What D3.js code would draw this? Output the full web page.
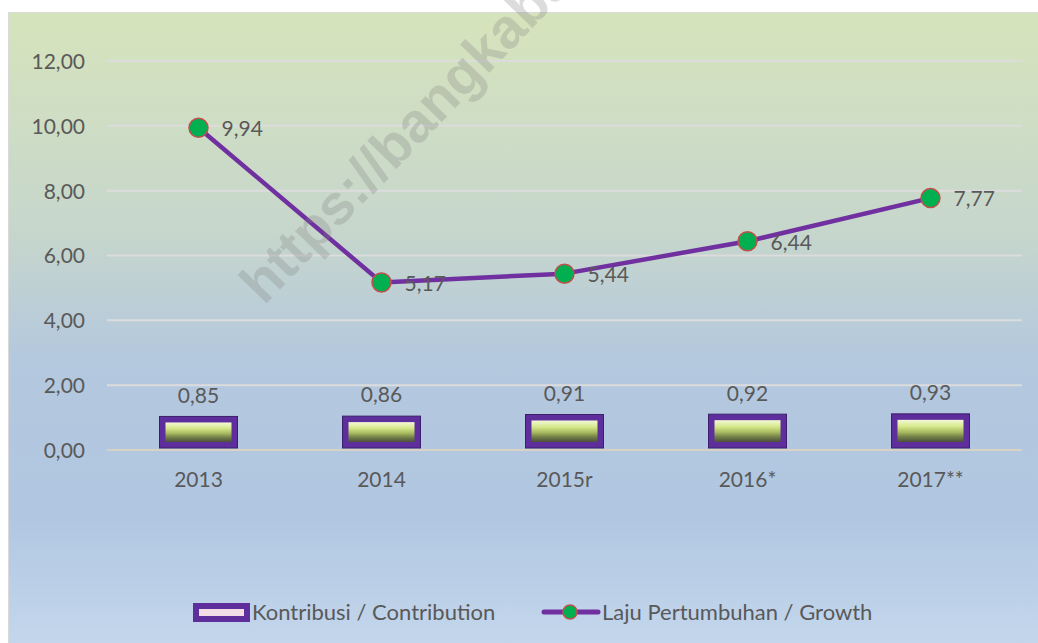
<!DOCTYPE html>
<html>
<head>
<meta charset="utf-8">
<script src="https://cdn.jsdelivr.net/npm/d3@7"></script>
<style>
  body { margin: 0; background: #fff; }
  svg text { font-family: Lato, "Open Sans", sans-serif; fill: #595959; }
</style>
</head>
<body>
<div id="chart"></div>
<script>
var years = ["2013", "2014", "2015r", "2016*", "2017**"];
var contribution = [0.85, 0.86, 0.91, 0.92, 0.93];
var growth = [9.94, 5.17, 5.44, 6.44, 7.77];
var yTicks = [0, 2, 4, 6, 8, 10, 12];
var legendLabels = ["Kontribusi / Contribution", "Laju Pertumbuhan / Growth"];

var width = 1038, height = 643;
var plot = { left: 107, right: 1022, top: 61, bottom: 450 };

var fmt = d3.formatLocale({ decimal: ",", thousands: ".", grouping: [3], currency: ["", ""] }).format(".2f");

var svg = d3.select("#chart").append("svg")
   .attr("width", width)
   .attr("height", height);

var defs = svg.append("defs");

var bg = defs.append("linearGradient").attr("id", "bg")
   .attr("x1", 0).attr("y1", 0).attr("x2", 0).attr("y2", 1);
bg.append("stop").attr("offset", "0%").attr("stop-color", "#d6e4bc");
bg.append("stop").attr("offset", "35%").attr("stop-color", "#c6d6cc");
bg.append("stop").attr("offset", "55%").attr("stop-color", "#b4c8de");
bg.append("stop").attr("offset", "80%").attr("stop-color", "#b1c7e1");
bg.append("stop").attr("offset", "100%").attr("stop-color", "#c3d6ec");

var barFill = defs.append("linearGradient").attr("id", "barFill")
   .attr("x1", 0).attr("y1", 0).attr("x2", 0).attr("y2", 1);
barFill.append("stop").attr("offset", "0%").attr("stop-color", "#f4f9d8");
barFill.append("stop").attr("offset", "30%").attr("stop-color", "#d6e88a");
barFill.append("stop").attr("offset", "55%").attr("stop-color", "#a9bb62");
barFill.append("stop").attr("offset", "75%").attr("stop-color", "#768448");
barFill.append("stop").attr("offset", "100%").attr("stop-color", "#4a4f3c");

// chart background
svg.append("rect")
   .attr("x", 8.5).attr("y", 12.5)
   .attr("width", width - 8).attr("height", height - 12)
   .attr("fill", "url(#bg)")
   .attr("stroke", "#d9d9d9");

var x = d3.scaleBand()
   .domain(years)
   .range([plot.left, plot.right]);

var y = d3.scaleLinear()
   .domain([0, 12])
   .range([plot.bottom, plot.top]);

// gridlines
svg.append("g")
   .selectAll("line")
   .data(yTicks)
   .enter().append("line")
   .attr("x1", plot.left).attr("x2", plot.right)
   .attr("y1", function(d) { return y(d); })
   .attr("y2", function(d) { return y(d); })
   .attr("stroke", function(d) { return d == 0 ? "#d8d2c4" : "#dcdcdc"; })
   .attr("stroke-width", 2);

// y axis
var yAxis = svg.append("g")
   .attr("transform", "translate(" + (plot.left - 22) + ",0)")
   .call(d3.axisLeft(y).tickValues(yTicks).tickFormat(fmt).tickSize(0).tickPadding(0));
yAxis.select(".domain").remove();
yAxis.selectAll("text")
   .attr("font-size", 21)
   .attr("dy", "0.35em");

// x axis
var xAxis = svg.append("g")
   .attr("transform", "translate(0," + plot.bottom + ")")
   .call(d3.axisBottom(x).tickSize(0).tickPadding(30));
xAxis.select(".domain").remove();
xAxis.selectAll("text")
   .attr("font-size", 21)
   .attr("dy", "0.35em");

// bars
var barW = 78;
var bars = svg.append("g")
   .selectAll("g")
   .data(contribution)
   .enter().append("g")
   .attr("transform", function(d, i) {
      return "translate(" + (x(years[i]) + x.bandwidth() / 2 - barW / 2) + ",0)";
   });

bars.append("rect")
   .attr("y", function(d) { return y(d) - 6; })
   .attr("width", barW)
   .attr("height", function(d) { return plot.bottom - 2 - y(d) + 6; })
   .attr("fill", "#5e2e9c")
   .attr("stroke", "#3b1f6b")
   .attr("stroke-width", 1);

bars.append("rect")
   .attr("x", 6)
   .attr("y", function(d) { return y(d); })
   .attr("width", barW - 12)
   .attr("height", function(d) { return plot.bottom - 8 - y(d); })
   .attr("fill", "url(#barFill)");

svg.append("g")
   .selectAll("text")
   .data(contribution)
   .enter().append("text")
   .attr("x", function(d, i) { return x(years[i]) + x.bandwidth() / 2; })
   .attr("y", function(d) { return y(d) - 27; })
   .attr("dy", "0.35em")
   .attr("text-anchor", "middle")
   .attr("font-size", 21)
   .text(function(d) { return fmt(d); });

// growth line
var line = d3.line()
   .x(function(d, i) { return x(years[i]) + x.bandwidth() / 2; })
   .y(function(d) { return y(d); });

svg.append("path")
   .datum(growth)
   .attr("d", line)
   .attr("fill", "none")
   .attr("stroke", "#7030a0")
   .attr("stroke-width", 4.5)
   .attr("stroke-linejoin", "round");

svg.append("g")
   .selectAll("circle")
   .data(growth)
   .enter().append("circle")
   .attr("cx", function(d, i) { return x(years[i]) + x.bandwidth() / 2; })
   .attr("cy", function(d) { return y(d); })
   .attr("r", 9.5)
   .attr("fill", "#00b050")
   .attr("stroke", "#c0504d")
   .attr("stroke-width", 1.5);

svg.append("g")
   .selectAll("text")
   .data(growth)
   .enter().append("text")
   .attr("x", function(d, i) { return x(years[i]) + x.bandwidth() / 2 + 23; })
   .attr("y", function(d) { return y(d) + 1; })
   .attr("dy", "0.35em")
   .attr("font-size", 21)
   .text(function(d) { return fmt(d); });

// watermark, over the plot
svg.append("text")
   .attr("transform", "translate(264,306) rotate(-46)")
   .attr("font-size", 56)
   .attr("font-weight", "bold")
   .style("font-family", "'Liberation Sans', Arial, sans-serif")
   .style("fill", "#808080")
   .style("fill-opacity", 0.28)
   .text("https://bangkaba");

// legend
var legend = svg.append("g").attr("transform", "translate(0,612)");

legend.append("rect")
   .attr("x", 193).attr("y", -9)
   .attr("width", 57).attr("height", 19)
   .attr("fill", "#5e2e9c");
legend.append("rect")
   .attr("x", 199).attr("y", -3)
   .attr("width", 45).attr("height", 7)
   .attr("fill", "#f2dde6");
legend.append("text")
   .attr("x", 252).attr("y", 0)
   .attr("dy", "0.35em")
   .attr("font-size", 22)
   .text(legendLabels[0]);

legend.append("line")
   .attr("x1", 544).attr("x2", 598)
   .attr("y1", 0).attr("y2", 0)
   .attr("stroke", "#7030a0")
   .attr("stroke-width", 5)
   .attr("stroke-linecap", "round");
legend.append("circle")
   .attr("cx", 570).attr("cy", 0).attr("r", 7)
   .attr("fill", "#00b050")
   .attr("stroke", "#c0504d")
   .attr("stroke-width", 1.5);
legend.append("text")
   .attr("x", 602).attr("y", 0)
   .attr("dy", "0.35em")
   .attr("font-size", 22)
   .text(legendLabels[1]);
</script>
</body>
</html>
